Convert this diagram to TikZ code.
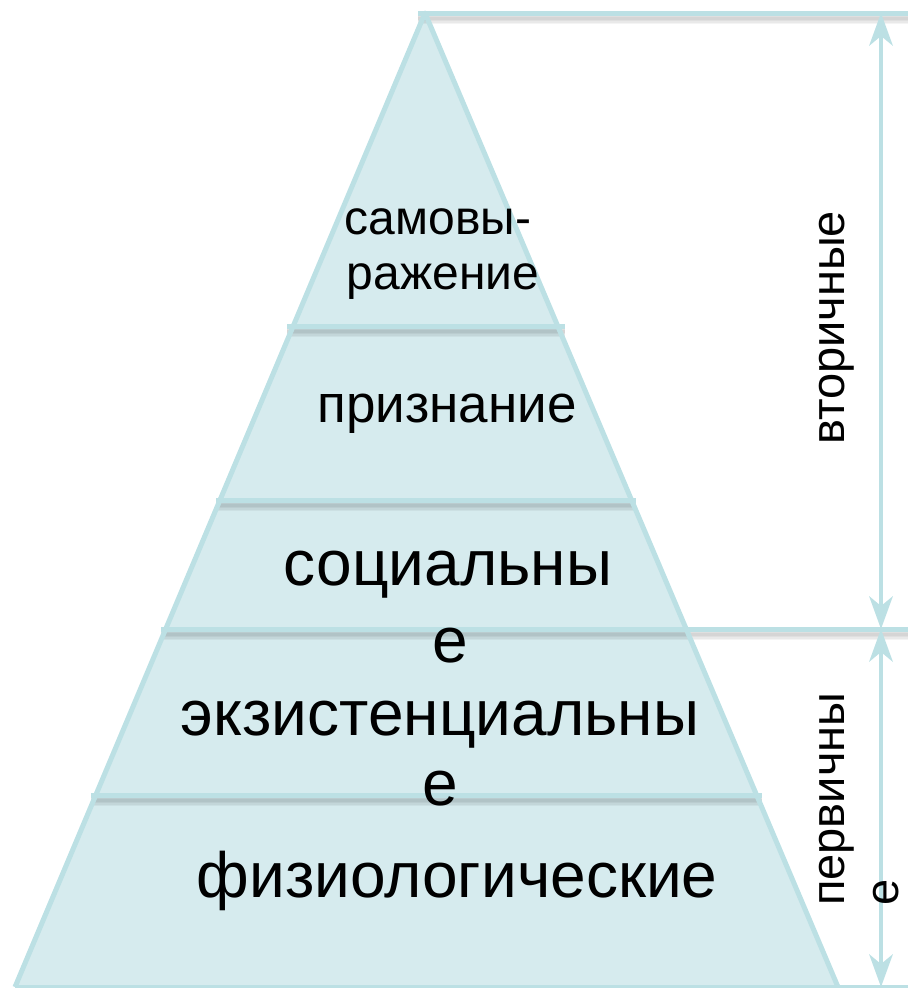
\documentclass[tikz,border=0pt]{standalone}
\usepackage{fontspec}
\setmainfont{Liberation Sans}
\usetikzlibrary{arrows.meta}
\definecolor{edgec}{HTML}{BCE0E4}
\definecolor{fillc}{HTML}{D6EBEE}
\begin{document}
\begin{tikzpicture}[x=1pt,y=-1pt,
  edgeline/.style={draw=edgec,line width=5pt},
  shadowline/.style={draw=black,opacity=0.045},
  arrline/.style={draw=edgec,line width=4.5pt,
    {Stealth[length=33pt,width=24pt,inset=10pt,line width=0pt]}-{Stealth[length=33pt,width=24pt,inset=10pt,line width=0pt]}},
  lbl/.style={inner sep=0pt,text=black},
  small/.style={lbl,font=\fontsize{48}{54}\selectfont},
  mid/.style={lbl,font=\fontsize{53}{60}\selectfont},
  big/.style={lbl,font=\fontsize{64}{74}\selectfont},
  side/.style={lbl,font=\fontsize{47}{54}\selectfont,rotate=90,anchor=base west}]
\useasboundingbox (0,0) rectangle (908,988);
% pyramid corners
\coordinate (apex) at (425,13);
\coordinate (bl) at (15,987);
\coordinate (br) at (838,987);
\fill[fillc] (apex) -- (bl) -- (br) -- cycle;
% divider end points
\coordinate (d1l) at (287,326); \coordinate (d1r) at (565,326);
\coordinate (d2l) at (216,500); \coordinate (d2r) at (636,500);
\coordinate (d3l) at (161,629); \coordinate (d3r) at (908,629);
\coordinate (d4l) at (91,795);  \coordinate (d4r) at (762,795);
\coordinate (t0l) at (418,13);  \coordinate (t0r) at (908,13);
\coordinate (b0l) at (15,987);  \coordinate (b0r) at (908,987);
% soft shadows
\foreach \a/\b in {d1l/d1r,d2l/d2r,d3l/d3r,d4l/d4r,t0l/t0r}{
  \foreach \w in {12,9,6,3}{
    \draw[shadowline,line width=\w pt] ([yshift=-5pt]\a) -- ([yshift=-5pt]\b);
  }
}
% outline
\draw[edgeline,line join=round] (bl) -- (apex) -- (br);
\foreach \a/\b in {d1l/d1r,d2l/d2r,d3l/d3r,d4l/d4r,t0l/t0r,b0l/b0r}{
  \draw[edgeline] (\a) -- (\b);
}
% dimension arrows
\coordinate (atop) at (881,13);
\coordinate (amid) at (881,629);
\coordinate (abot) at (881,987);
\draw[arrline] (atop) -- (amid);
\draw[arrline] (amid) -- (abot);
% labels
\node[small,anchor=base] (l1a) at (438,234) {самовы-};
\node[small,anchor=base] (l1b) at (443,289) {ражение};
\node[mid,anchor=base] (l2) at (447,422) {признание};
\node[big,anchor=base] (l3a) at (448,585) {социальны};
\node[big,anchor=base] (l3b) at (450,662) {е};
\node[big,anchor=base] (l4a) at (440,735) {экзистенциальны};
\node[big,anchor=base] (l4b) at (440,805) {е};
\node[big,anchor=base] (l5) at (457,897) {физиологические};
\node[side] (r1) at (844,445) {вторичные};
\node[side] (r2a) at (844,906) {первичны};
\node[side] (r2b) at (898,906) {е};
\end{tikzpicture}
\end{document}
